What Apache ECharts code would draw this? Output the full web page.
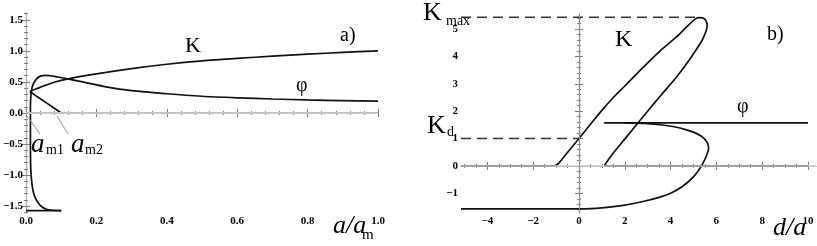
<!DOCTYPE html>
<html><head><meta charset="utf-8">
<script src="https://cdn.jsdelivr.net/npm/echarts@6/dist/echarts.min.js"></script>
<style>html,body{margin:0;padding:0;background:#fff}#c{width:817px;height:246px}</style>
</head><body><div id="c"></div>
<script>
// ---------- panel a) ----------
const aXTicks = [0, 0.2, 0.4, 0.6, 0.8, 1.0];
const aYTicks = [-1.5, -1.0, -0.5, 0, 0.5, 1.0, 1.5];
const aK0 = [[0, 0], [0.1, 0]];
const aPhi0 = [[0, -1.5708], [0.1, -1.5708]];
const aK = [[0.1, 0], [0.06, 0.155], [0.03, 0.27], [0.017, 0.322], [0.0125, 0.338], [0.013, 0.352], [0.018, 0.365], [0.03, 0.39], [0.05, 0.435], [0.08, 0.495], [0.12, 0.55], [0.2, 0.63], [0.3, 0.715], [0.4, 0.785], [0.5, 0.84], [0.6, 0.88], [0.7, 0.915], [0.8, 0.948], [0.9, 0.975], [1.0, 1.0]];
const aPhi = [[0.1, -1.5708], [0.075, -1.566], [0.056, -1.545], [0.045, -1.51], [0.037, -1.465], [0.029, -1.395], [0.022, -1.3], [0.017, -1.15], [0.0135, -0.9], [0.0125, -0.5], [0.0125, 0], [0.013, 0.2], [0.015, 0.34], [0.02, 0.46], [0.03, 0.55], [0.04, 0.59], [0.055, 0.605], [0.07, 0.6], [0.09, 0.58], [0.12, 0.55], [0.16, 0.5], [0.22, 0.43], [0.3, 0.36], [0.4, 0.31], [0.5, 0.27], [0.6, 0.245], [0.7, 0.225], [0.8, 0.21], [0.9, 0.2], [1.0, 0.19]];

// ---------- panel b) ----------
const bXTicks = [-4, -2, 0, 2, 4, 6, 8, 10];
const bYTicks = [-1, 0, 1, 2, 3, 4, 5];
const bK0Left = [[-5.15, 0], [-1.15, 0]];
const bK0Right = [[1.1, 0], [10, 0]];
const bK = [[-1.15, 0], [-1.02, 0.015], [-0.92, 0.07], [-0.8, 0.18], [-0.5, 0.49], [0, 1.0], [0.5, 1.52], [1.0, 2.03], [1.5, 2.5], [2.0, 2.92], [2.8, 3.6], [3.5, 4.17], [4.27, 4.72], [4.7, 5.08], [5.0, 5.32], [5.2, 5.42], [5.4, 5.41], [5.55, 5.3], [5.6, 5.13], [5.55, 4.93], [5.43, 4.68], [5.3, 4.48], [4.8, 3.85], [4.27, 3.26], [3.6, 2.6], [3.04, 2.04], [2.0, 0.98], [1.4, 0.36], [1.1, 0]];
const bPhiLeft = [[-5.15, -1.5708], [0, -1.5708]];
const bPhi = [[0, -1.5708], [0.5, -1.562], [1.0, -1.535], [1.5, -1.49], [2.0, -1.43], [2.8, -1.3], [3.5, -1.15], [4.0, -1.0], [4.5, -0.76], [5.0, -0.4], [5.35, 0.0], [5.58, 0.4], [5.66, 0.62], [5.62, 0.82], [5.46, 1.01], [5.15, 1.18], [4.73, 1.31], [4.1, 1.44], [3.54, 1.505], [3.0, 1.545], [2.5, 1.563], [2.0, 1.5708]];
const bPhiRight = [[1.1, 1.5708], [10, 1.5708]];
const bKmaxLine = [[-5.15, 5.43], [5.15, 5.43]];
const bKdLine = [[-5.15, 1], [0, 1]];

const A_X = [0, 1], A_Y = [-1.61, 1.61];
const B_X = [-5.15, 10.35], B_Y = [-1.72, 5.55];

function steps(a, b, s) { const r = []; for (let v = a; v <= b + 1e-9; v += s) r.push(+v.toFixed(4)); return r; }
const fmtA = v => (v < 0 ? '\u2212' : '') + Math.abs(v).toFixed(1);
const fmtB = v => (v < 0 ? '\u2212' : '') + Math.abs(v);
const lbl = { fontFamily: 'Liberation Serif', fontWeight: 'bold', fontSize: 11, color: '#000', margin: 3 };
const FRAME = '#b0b0b0', TICK = '#808080';

function axisGroup(grid, range, majors, minors, fmt, posMain, posOpp) {
  const base = { type: 'value', gridIndex: grid, min: range[0], max: range[1], splitLine: { show: false }, axisPointer: { show: false } };
  return [
    Object.assign({}, base, { position: posMain, axisLine: { show: true, lineStyle: { color: FRAME, width: 1.2 } },
      axisTick: { show: true, inside: true, length: 4, customValues: majors, lineStyle: { color: TICK } },
      axisLabel: Object.assign({ show: true, customValues: majors, formatter: fmt }, lbl) }),
    Object.assign({}, base, { position: posMain, axisLine: { show: false },
      axisTick: { show: true, inside: true, length: 2, customValues: minors, lineStyle: { color: TICK } },
      axisLabel: { show: false } }),
    Object.assign({}, base, { position: posOpp, axisLine: { show: true, lineStyle: { color: FRAME, width: 1.2 } },
      axisTick: { show: true, inside: true, length: 4, customValues: majors, lineStyle: { color: TICK } },
      axisLabel: { show: false } }),
    Object.assign({}, base, { position: posOpp, axisLine: { show: false },
      axisTick: { show: true, inside: true, length: 2, customValues: minors, lineStyle: { color: TICK } },
      axisLabel: { show: false } })
  ];
}

const xAxes = [].concat(
  axisGroup(0, A_X, aXTicks, steps(0, 1, 0.04), fmtA, 'bottom', 'top'),
  axisGroup(1, B_X, bXTicks, steps(-5, 10, 0.5), fmtB, 'bottom', 'top'));
const yAxes = [].concat(
  axisGroup(0, A_Y, aYTicks, steps(-1.6, 1.6, 0.1), fmtA, 'left', 'right'),
  axisGroup(1, B_Y, bYTicks, steps(-1.6, 5.4, 0.2), fmtB, 'left', 'right'));

function line(data, panel, opts) {
  return Object.assign({
    type: 'line', data: data, xAxisIndex: panel * 4, yAxisIndex: panel * 4,
    showSymbol: false, symbol: 'none', smooth: false, z: 3, silent: true,
    lineStyle: { color: '#111', width: 1.7 }
  }, opts || {});
}

const series = [
  { type: 'line', data: [], xAxisIndex: 0, yAxisIndex: 0, z: 1, silent: true,
    markLine: { silent: true, symbol: 'none', label: { show: false }, animation: false,
      lineStyle: { color: '#c4c4c4', width: 1.8, type: 'solid' }, data: [{ yAxis: 0 }] } },
  { type: 'line', data: [], xAxisIndex: 4, yAxisIndex: 4, z: 1, silent: true,
    markLine: { silent: true, symbol: 'none', label: { show: false }, animation: false,
      data: [{ yAxis: 0, lineStyle: { color: '#c8c8c8', width: 1.5, type: 'solid' } },
             { xAxis: 0, lineStyle: { color: '#8c8c8c', width: 1, type: 'solid' } }] } },
  line(aK0, 0), line(aPhi0, 0),
  line(aK, 0, { smooth: 0.25 }),
  line(aPhi, 0, { smooth: 0.25 }),
  line(bK0Left, 1), line(bK0Right, 1),
  line(bK, 1, { smooth: 0.3 }),
  line(bPhiLeft, 1), line(bPhiRight, 1),
  line(bPhi, 1, { smooth: 0.3 }),
  line(bKmaxLine, 1, { lineStyle: { color: '#333', width: 1.4, type: [10, 6] } }),
  line(bKdLine, 1, { lineStyle: { color: '#333', width: 1.4, type: [10, 6] } })
];

function txt(x, y, s, size, italic) {
  return { type: 'text', x: x, y: y, silent: true, z: 10,
    style: { text: s, fill: '#000', align: 'left', verticalAlign: 'middle',
      font: (italic ? 'italic ' : '') + size + 'px "Liberation Serif", serif' } };
}
function seg(x1, y1, x2, y2) {
  return { type: 'line', silent: true, z: 10, shape: { x1: x1, y1: y1, x2: x2, y2: y2 }, style: { stroke: '#999', lineWidth: 1 } };
}

const graphics = [
  txt(185, 46, 'K', 22), txt(340, 36, 'a)', 20), txt(296, 86, '\u03c6', 20),
  txt(31, 145, 'a', 27, true), txt(46, 150, 'm1', 14),
  txt(71, 145, 'a', 27, true), txt(85, 150, 'm2', 14),
  seg(27, 116, 40, 134), seg(57, 116, 68, 134),
  txt(333, 226, 'a/a', 26, true), txt(362, 235, 'm', 15),
  txt(423, 13, 'K', 26), txt(446, 21, 'max', 14),
  txt(427, 126, 'K', 26), txt(447, 132, 'd', 14),
  txt(615, 40, 'K', 24), txt(767, 35, 'b)', 20), txt(737, 107, '\u03c6', 20),
  txt(773, 228, 'd/a', 26, true)
];

const chart = echarts.init(document.getElementById('c'), null, { renderer: 'canvas' });
chart.setOption({
  animation: false,
  backgroundColor: '#fff',
  grid: [
    { left: 20, top: 13, width: 358, height: 200, containLabel: false },
    { left: 461, top: 14, width: 355, height: 199, containLabel: false }
  ],
  xAxis: xAxes,
  yAxis: yAxes,
  series: series,
  graphic: graphics
});
</script></body></html>
